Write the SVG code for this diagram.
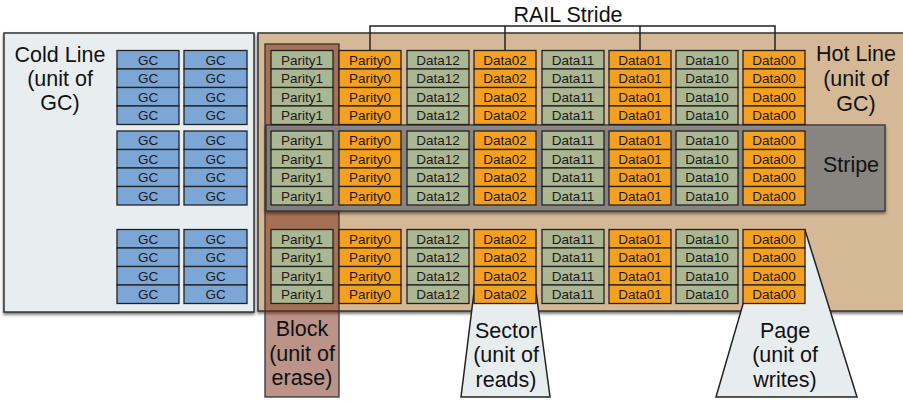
<svg xmlns="http://www.w3.org/2000/svg" width="903" height="401" viewBox="0 0 903 401">
<defs>
<filter id="sh" x="-5%" y="-5%" width="110%" height="115%">
<feDropShadow dx="0" dy="2" stdDeviation="1.8" flood-color="#000" flood-opacity="0.55"/>
</filter>
<style>
.big{font-family:"Liberation Sans",Arial,sans-serif;font-size:21.5px;fill:#111;text-anchor:middle}
.t{font-family:"Liberation Sans",Arial,sans-serif;font-size:13.5px;fill:#1a1a1a;text-anchor:middle}
.b{fill:#7ba6d6;stroke:#222;stroke-width:1.3}
.g{fill:#abb693;stroke:#222;stroke-width:1.3}
.o{fill:#f5a01f;stroke:#222;stroke-width:1.3}
.panel{stroke:#333;stroke-width:1.5}
.conn{fill:none;stroke:#222;stroke-width:1.5}
</style>
</defs>
<rect width="903" height="401" fill="#fff"/>

<g id="cold-line">
<rect class="panel" x="4" y="33" width="250" height="279" fill="#e8eef0" filter="url(#sh)"/>
<text class="big" x="60" y="62">Cold Line</text>
<text class="big" x="60" y="86">(unit of</text>
<text class="big" x="60" y="110">GC)</text>
</g>

<g id="hot-line">
<rect class="panel" x="258" y="33" width="660" height="278" fill="#d5b895" filter="url(#sh)"/>
<text class="big" x="856" y="61">Hot Line</text>
<text class="big" x="856" y="86">(unit of</text>
<text class="big" x="856" y="111">GC)</text>
</g>

<g id="sector">
<polygon points="475,284 535,284 550,397 461,397" fill="#e7edef" stroke="#222" stroke-width="1.5"/>
<text class="big" x="506" y="338">Sector</text>
<text class="big" x="506" y="362">(unit of</text>
<text class="big" x="506" y="387">reads)</text>
</g>

<g id="page">
<polygon points="743,304 805,230 857,397 716,397" fill="#e7edef" stroke="#222" stroke-width="1.5"/>
<text class="big" x="785" y="338">Page</text>
<text class="big" x="785" y="362">(unit of</text>
<text class="big" x="785" y="387">writes)</text>
</g>

<g id="block">
<rect x="265" y="44" width="74" height="353" fill="rgb(120,40,20)" fill-opacity="0.5" stroke="#333" stroke-width="1.3"/>
<text class="big" x="302" y="336">Block</text>
<text class="big" x="302" y="361">(unit of</text>
<text class="big" x="302" y="385">erase)</text>
</g>

<g id="stripe">
<rect x="266" y="125" width="619" height="86" fill="#858585" fill-opacity="0.82" stroke="#333" stroke-width="1.3" filter="url(#sh)"/>
<text class="big" x="851" y="172">Stripe</text>
</g>

<g id="connectors">
<path class="conn" d="M370,50V26H775V50M505,26V50M640,26V50"/>
</g>
<g id="rail-stride">
<text class="big" x="568" y="22">RAIL Stride</text>
</g>

<!-- Cold line GC cells -->
<g id="gc-a1" transform="translate(117,50.5)"><rect class="b" width="62" height="18.5"/><rect class="b" y="18.5" width="62" height="18.5"/><rect class="b" y="37" width="62" height="18.5"/><rect class="b" y="55.5" width="62" height="18.5"/><text class="t" x="31" y="14">GC</text><text class="t" x="31" y="32.5">GC</text><text class="t" x="31" y="51">GC</text><text class="t" x="31" y="69.5">GC</text></g>
<g id="gc-b1" transform="translate(184,50.5)"><rect class="b" width="63" height="18.5"/><rect class="b" y="18.5" width="63" height="18.5"/><rect class="b" y="37" width="63" height="18.5"/><rect class="b" y="55.5" width="63" height="18.5"/><text class="t" x="31.5" y="14">GC</text><text class="t" x="31.5" y="32.5">GC</text><text class="t" x="31.5" y="51">GC</text><text class="t" x="31.5" y="69.5">GC</text></g>
<g id="gc-a2" transform="translate(117,131)"><rect class="b" width="62" height="18.5"/><rect class="b" y="18.5" width="62" height="18.5"/><rect class="b" y="37" width="62" height="18.5"/><rect class="b" y="55.5" width="62" height="18.5"/><text class="t" x="31" y="14">GC</text><text class="t" x="31" y="32.5">GC</text><text class="t" x="31" y="51">GC</text><text class="t" x="31" y="69.5">GC</text></g>
<g id="gc-b2" transform="translate(184,131)"><rect class="b" width="63" height="18.5"/><rect class="b" y="18.5" width="63" height="18.5"/><rect class="b" y="37" width="63" height="18.5"/><rect class="b" y="55.5" width="63" height="18.5"/><text class="t" x="31.5" y="14">GC</text><text class="t" x="31.5" y="32.5">GC</text><text class="t" x="31.5" y="51">GC</text><text class="t" x="31.5" y="69.5">GC</text></g>
<g id="gc-a3" transform="translate(117,229.5)"><rect class="b" width="62" height="18.5"/><rect class="b" y="18.5" width="62" height="18.5"/><rect class="b" y="37" width="62" height="18.5"/><rect class="b" y="55.5" width="62" height="18.5"/><text class="t" x="31" y="14">GC</text><text class="t" x="31" y="32.5">GC</text><text class="t" x="31" y="51">GC</text><text class="t" x="31" y="69.5">GC</text></g>
<g id="gc-b3" transform="translate(184,229.5)"><rect class="b" width="63" height="18.5"/><rect class="b" y="18.5" width="63" height="18.5"/><rect class="b" y="37" width="63" height="18.5"/><rect class="b" y="55.5" width="63" height="18.5"/><text class="t" x="31.5" y="14">GC</text><text class="t" x="31.5" y="32.5">GC</text><text class="t" x="31.5" y="51">GC</text><text class="t" x="31.5" y="69.5">GC</text></g>

<!-- Hot line cells: row group 1 -->
<g id="parity1-1" transform="translate(271,50.5)"><rect class="g" width="62" height="18.5"/><rect class="g" y="18.5" width="62" height="18.5"/><rect class="g" y="37" width="62" height="18.5"/><rect class="g" y="55.5" width="62" height="18.5"/><text class="t" x="31" y="14">Parity1</text><text class="t" x="31" y="32.5">Parity1</text><text class="t" x="31" y="51">Parity1</text><text class="t" x="31" y="69.5">Parity1</text></g>
<g id="parity0-1" transform="translate(339,50.5)"><rect class="o" width="62" height="18.5"/><rect class="o" y="18.5" width="62" height="18.5"/><rect class="o" y="37" width="62" height="18.5"/><rect class="o" y="55.5" width="62" height="18.5"/><text class="t" x="31" y="14">Parity0</text><text class="t" x="31" y="32.5">Parity0</text><text class="t" x="31" y="51">Parity0</text><text class="t" x="31" y="69.5">Parity0</text></g>
<g id="data12-1" transform="translate(407,50.5)"><rect class="g" width="62" height="18.5"/><rect class="g" y="18.5" width="62" height="18.5"/><rect class="g" y="37" width="62" height="18.5"/><rect class="g" y="55.5" width="62" height="18.5"/><text class="t" x="31" y="14">Data12</text><text class="t" x="31" y="32.5">Data12</text><text class="t" x="31" y="51">Data12</text><text class="t" x="31" y="69.5">Data12</text></g>
<g id="data02-1" transform="translate(474,50.5)"><rect class="o" width="62" height="18.5"/><rect class="o" y="18.5" width="62" height="18.5"/><rect class="o" y="37" width="62" height="18.5"/><rect class="o" y="55.5" width="62" height="18.5"/><text class="t" x="31" y="14">Data02</text><text class="t" x="31" y="32.5">Data02</text><text class="t" x="31" y="51">Data02</text><text class="t" x="31" y="69.5">Data02</text></g>
<g id="data11-1" transform="translate(542,50.5)"><rect class="g" width="62" height="18.5"/><rect class="g" y="18.5" width="62" height="18.5"/><rect class="g" y="37" width="62" height="18.5"/><rect class="g" y="55.5" width="62" height="18.5"/><text class="t" x="31" y="14">Data11</text><text class="t" x="31" y="32.5">Data11</text><text class="t" x="31" y="51">Data11</text><text class="t" x="31" y="69.5">Data11</text></g>
<g id="data01-1" transform="translate(609,50.5)"><rect class="o" width="62" height="18.5"/><rect class="o" y="18.5" width="62" height="18.5"/><rect class="o" y="37" width="62" height="18.5"/><rect class="o" y="55.5" width="62" height="18.5"/><text class="t" x="31" y="14">Data01</text><text class="t" x="31" y="32.5">Data01</text><text class="t" x="31" y="51">Data01</text><text class="t" x="31" y="69.5">Data01</text></g>
<g id="data10-1" transform="translate(676,50.5)"><rect class="g" width="62" height="18.5"/><rect class="g" y="18.5" width="62" height="18.5"/><rect class="g" y="37" width="62" height="18.5"/><rect class="g" y="55.5" width="62" height="18.5"/><text class="t" x="31" y="14">Data10</text><text class="t" x="31" y="32.5">Data10</text><text class="t" x="31" y="51">Data10</text><text class="t" x="31" y="69.5">Data10</text></g>
<g id="data00-1" transform="translate(743,50.5)"><rect class="o" width="62" height="18.5"/><rect class="o" y="18.5" width="62" height="18.5"/><rect class="o" y="37" width="62" height="18.5"/><rect class="o" y="55.5" width="62" height="18.5"/><text class="t" x="31" y="14">Data00</text><text class="t" x="31" y="32.5">Data00</text><text class="t" x="31" y="51">Data00</text><text class="t" x="31" y="69.5">Data00</text></g>

<!-- row group 2 -->
<g id="parity1-2" transform="translate(271,131)"><rect class="g" width="62" height="18.5"/><rect class="g" y="18.5" width="62" height="18.5"/><rect class="g" y="37" width="62" height="18.5"/><rect class="g" y="55.5" width="62" height="18.5"/><text class="t" x="31" y="14">Parity1</text><text class="t" x="31" y="32.5">Parity1</text><text class="t" x="31" y="51">Parity1</text><text class="t" x="31" y="69.5">Parity1</text></g>
<g id="parity0-2" transform="translate(339,131)"><rect class="o" width="62" height="18.5"/><rect class="o" y="18.5" width="62" height="18.5"/><rect class="o" y="37" width="62" height="18.5"/><rect class="o" y="55.5" width="62" height="18.5"/><text class="t" x="31" y="14">Parity0</text><text class="t" x="31" y="32.5">Parity0</text><text class="t" x="31" y="51">Parity0</text><text class="t" x="31" y="69.5">Parity0</text></g>
<g id="data12-2" transform="translate(407,131)"><rect class="g" width="62" height="18.5"/><rect class="g" y="18.5" width="62" height="18.5"/><rect class="g" y="37" width="62" height="18.5"/><rect class="g" y="55.5" width="62" height="18.5"/><text class="t" x="31" y="14">Data12</text><text class="t" x="31" y="32.5">Data12</text><text class="t" x="31" y="51">Data12</text><text class="t" x="31" y="69.5">Data12</text></g>
<g id="data02-2" transform="translate(474,131)"><rect class="o" width="62" height="18.5"/><rect class="o" y="18.5" width="62" height="18.5"/><rect class="o" y="37" width="62" height="18.5"/><rect class="o" y="55.5" width="62" height="18.5"/><text class="t" x="31" y="14">Data02</text><text class="t" x="31" y="32.5">Data02</text><text class="t" x="31" y="51">Data02</text><text class="t" x="31" y="69.5">Data02</text></g>
<g id="data11-2" transform="translate(542,131)"><rect class="g" width="62" height="18.5"/><rect class="g" y="18.5" width="62" height="18.5"/><rect class="g" y="37" width="62" height="18.5"/><rect class="g" y="55.5" width="62" height="18.5"/><text class="t" x="31" y="14">Data11</text><text class="t" x="31" y="32.5">Data11</text><text class="t" x="31" y="51">Data11</text><text class="t" x="31" y="69.5">Data11</text></g>
<g id="data01-2" transform="translate(609,131)"><rect class="o" width="62" height="18.5"/><rect class="o" y="18.5" width="62" height="18.5"/><rect class="o" y="37" width="62" height="18.5"/><rect class="o" y="55.5" width="62" height="18.5"/><text class="t" x="31" y="14">Data01</text><text class="t" x="31" y="32.5">Data01</text><text class="t" x="31" y="51">Data01</text><text class="t" x="31" y="69.5">Data01</text></g>
<g id="data10-2" transform="translate(676,131)"><rect class="g" width="62" height="18.5"/><rect class="g" y="18.5" width="62" height="18.5"/><rect class="g" y="37" width="62" height="18.5"/><rect class="g" y="55.5" width="62" height="18.5"/><text class="t" x="31" y="14">Data10</text><text class="t" x="31" y="32.5">Data10</text><text class="t" x="31" y="51">Data10</text><text class="t" x="31" y="69.5">Data10</text></g>
<g id="data00-2" transform="translate(743,131)"><rect class="o" width="62" height="18.5"/><rect class="o" y="18.5" width="62" height="18.5"/><rect class="o" y="37" width="62" height="18.5"/><rect class="o" y="55.5" width="62" height="18.5"/><text class="t" x="31" y="14">Data00</text><text class="t" x="31" y="32.5">Data00</text><text class="t" x="31" y="51">Data00</text><text class="t" x="31" y="69.5">Data00</text></g>

<!-- row group 3 -->
<g id="parity1-3" transform="translate(271,229.5)"><rect class="g" width="62" height="18.5"/><rect class="g" y="18.5" width="62" height="18.5"/><rect class="g" y="37" width="62" height="18.5"/><rect class="g" y="55.5" width="62" height="18.5"/><text class="t" x="31" y="14">Parity1</text><text class="t" x="31" y="32.5">Parity1</text><text class="t" x="31" y="51">Parity1</text><text class="t" x="31" y="69.5">Parity1</text></g>
<g id="parity0-3" transform="translate(339,229.5)"><rect class="o" width="62" height="18.5"/><rect class="o" y="18.5" width="62" height="18.5"/><rect class="o" y="37" width="62" height="18.5"/><rect class="o" y="55.5" width="62" height="18.5"/><text class="t" x="31" y="14">Parity0</text><text class="t" x="31" y="32.5">Parity0</text><text class="t" x="31" y="51">Parity0</text><text class="t" x="31" y="69.5">Parity0</text></g>
<g id="data12-3" transform="translate(407,229.5)"><rect class="g" width="62" height="18.5"/><rect class="g" y="18.5" width="62" height="18.5"/><rect class="g" y="37" width="62" height="18.5"/><rect class="g" y="55.5" width="62" height="18.5"/><text class="t" x="31" y="14">Data12</text><text class="t" x="31" y="32.5">Data12</text><text class="t" x="31" y="51">Data12</text><text class="t" x="31" y="69.5">Data12</text></g>
<g id="data02-3" transform="translate(474,229.5)"><rect class="o" width="62" height="18.5"/><rect class="o" y="18.5" width="62" height="18.5"/><rect class="o" y="37" width="62" height="18.5"/><rect class="o" y="55.5" width="62" height="18.5"/><text class="t" x="31" y="14">Data02</text><text class="t" x="31" y="32.5">Data02</text><text class="t" x="31" y="51">Data02</text><text class="t" x="31" y="69.5">Data02</text></g>
<g id="data11-3" transform="translate(542,229.5)"><rect class="g" width="62" height="18.5"/><rect class="g" y="18.5" width="62" height="18.5"/><rect class="g" y="37" width="62" height="18.5"/><rect class="g" y="55.5" width="62" height="18.5"/><text class="t" x="31" y="14">Data11</text><text class="t" x="31" y="32.5">Data11</text><text class="t" x="31" y="51">Data11</text><text class="t" x="31" y="69.5">Data11</text></g>
<g id="data01-3" transform="translate(609,229.5)"><rect class="o" width="62" height="18.5"/><rect class="o" y="18.5" width="62" height="18.5"/><rect class="o" y="37" width="62" height="18.5"/><rect class="o" y="55.5" width="62" height="18.5"/><text class="t" x="31" y="14">Data01</text><text class="t" x="31" y="32.5">Data01</text><text class="t" x="31" y="51">Data01</text><text class="t" x="31" y="69.5">Data01</text></g>
<g id="data10-3" transform="translate(676,229.5)"><rect class="g" width="62" height="18.5"/><rect class="g" y="18.5" width="62" height="18.5"/><rect class="g" y="37" width="62" height="18.5"/><rect class="g" y="55.5" width="62" height="18.5"/><text class="t" x="31" y="14">Data10</text><text class="t" x="31" y="32.5">Data10</text><text class="t" x="31" y="51">Data10</text><text class="t" x="31" y="69.5">Data10</text></g>
<g id="data00-3" transform="translate(743,229.5)"><rect class="o" width="62" height="18.5"/><rect class="o" y="18.5" width="62" height="18.5"/><rect class="o" y="37" width="62" height="18.5"/><rect class="o" y="55.5" width="62" height="18.5"/><text class="t" x="31" y="14">Data00</text><text class="t" x="31" y="32.5">Data00</text><text class="t" x="31" y="51">Data00</text><text class="t" x="31" y="69.5">Data00</text></g>
</svg>
